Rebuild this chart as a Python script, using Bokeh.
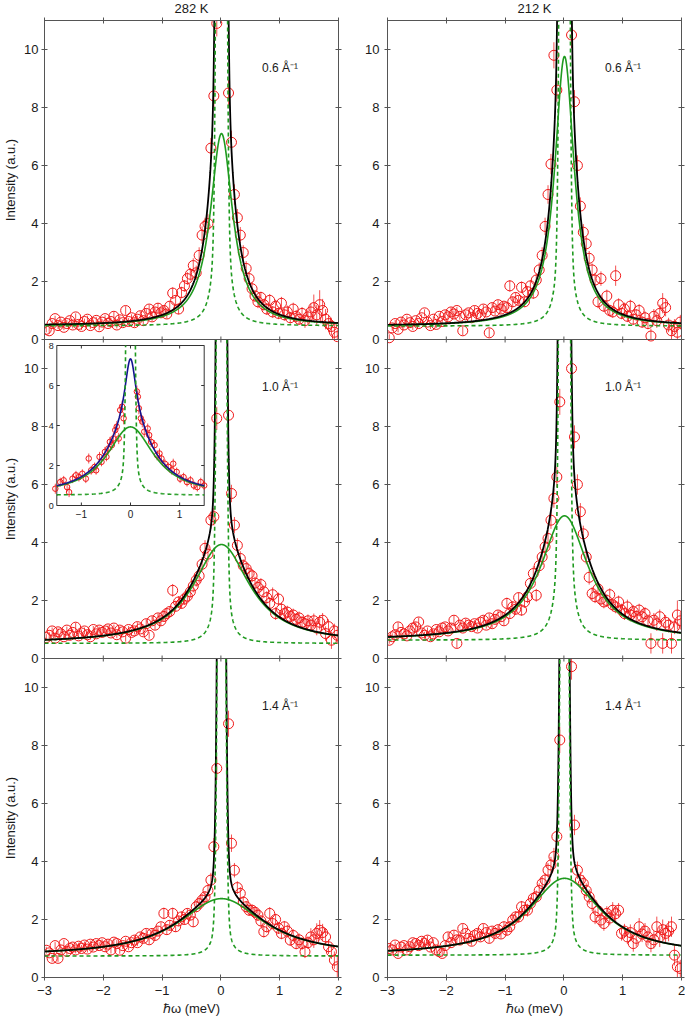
import numpy as np
from bokeh.plotting import figure
from bokeh.models import Range1d, LinearAxis, FixedTicker, Label, ColumnDataSource, Span
from bokeh.layouts import row, column
from bokeh.core.properties import value
from bokeh.embed import file_html
from bokeh.resources import INLINE

# ------------------------------------------------------------------ data
TEMPS = ["282 K", "212 K"]
Q_LABELS = ["0.6 Å⁻¹", "1.0 Å⁻¹", "1.4 Å⁻¹"]
XTICKS = [-3, -2, -1, 0, 1, 2]
XTICK_LABELS = ["−3", "−2", "−1", "0", "1", "2"]
YTICKS = [0, 2, 4, 6, 8, 10]
X_LABEL = "ℏω (meV)"
Y_LABEL = "Intensity (a.u.)"

ENERGY = [
    -2.97, -2.92, -2.87, -2.82, -2.77, -2.72, -2.67, -2.62, -2.57, -2.52,
    -2.47, -2.42, -2.37, -2.32, -2.27, -2.22, -2.17, -2.12, -2.07, -2.02,
    -1.97, -1.92, -1.87, -1.82, -1.77, -1.72, -1.67, -1.62, -1.57, -1.52,
    -1.47, -1.42, -1.37, -1.32, -1.27, -1.22, -1.17, -1.12, -1.07, -1.02,
    -0.97, -0.92, -0.87, -0.82, -0.77, -0.72, -0.67, -0.62, -0.57, -0.52,
    -0.47, -0.42, -0.37, -0.32, -0.27, -0.22, -0.17, -0.12, -0.07, -0.02,
    0.03, 0.08, 0.13, 0.18, 0.23, 0.28, 0.33, 0.38, 0.43, 0.48,
    0.53, 0.58, 0.63, 0.68, 0.73, 0.78, 0.83, 0.88, 0.93, 0.98,
    1.03, 1.08, 1.13, 1.18, 1.23, 1.28, 1.33, 1.38, 1.43, 1.48,
    1.53, 1.58, 1.63, 1.68, 1.73, 1.78, 1.83, 1.88, 1.93, 1.98]

# intensities (None = above the plotted range)
I_282K_Q06 = [
    0.35, 0.30, 0.55, 0.72, 0.48, 0.60, 0.42, 0.55, 0.65, 0.50,
    0.78, 0.52, 0.45, 0.62, 0.70, 0.48, 0.58, 0.66, 0.44, 0.60,
    0.72, 0.55, 0.62, 0.80, 0.50, 0.68, 0.58, 1.00, 0.62, 0.75,
    0.58, 0.70, 0.82, 0.65, 0.90, 1.05, 0.78, 0.95, 1.08, 0.92,
    1.00, 0.88, 1.15, 1.60, 1.35, 1.05, 1.62, 1.85, 2.10, 2.25,
    2.55, 2.30, 2.90, 3.60, 3.90, 4.00, 6.60, 8.40, 10.90, None,
    None, None, 8.50, 6.80, 5.00, 4.20, 3.60, 3.00, 2.45, 2.10,
    1.75, 1.50, 1.30, 1.45, 1.20, 1.05, 1.35, 0.95, 1.15, 0.90,
    1.25, 0.85, 0.95, 0.75, 1.05, 0.80, 0.70, 0.90, 0.65, 0.78,
    0.95, 1.10, 0.85, 1.20, 1.00, 0.70, 0.55, 0.45, 0.25, 0.10]
E_282K_Q06 = [
    .10, .10, .12, .10, .12, .10, .10, .12, .10, .12,
    .12, .10, .12, .10, .12, .12, .10, .12, .12, .10,
    .12, .12, .12, .15, .12, .12, .12, .15, .12, .12,
    .15, .12, .15, .12, .15, .15, .15, .15, .18, .15,
    .18, .15, .18, .20, .18, .18, .20, .20, .22, .22,
    .25, .25, .28, .30, .30, .32, .35, .40, .45, 0,
    0, 0, .45, .40, .35, .30, .28, .25, .25, .22,
    .22, .20, .22, .20, .20, .20, .22, .20, .22, .20,
    .22, .20, .22, .20, .22, .22, .20, .22, .25, .25,
    .30, .45, .35, .50, .40, .35, .30, .30, .30, .25]

I_212K_Q06 = [
    0.06, 0.40, 0.55, 0.35, 0.60, 0.50, 0.70, 0.58, 0.45, 0.65,
    0.55, 0.75, 0.92, 0.60, 0.48, 0.70, 0.52, 0.80, 0.62, 0.85,
    0.78, 0.95, 0.88, 1.00, 0.80, 0.30, 0.85, 0.92, 0.75, 1.00,
    0.90, 0.85, 1.05, 0.95, 0.23, 1.10, 0.98, 1.20, 1.05, 1.15,
    1.10, 1.85, 1.30, 1.45, 1.35, 1.80, 1.30, 1.65, 1.85, 1.60,
    2.05, 2.40, 2.90, 3.90, 5.00, 6.05, 9.80, 8.60, None, None,
    None, None, 10.50, 8.20, 6.00, 4.60, 3.70, 3.30, 2.80, 2.40,
    2.05, 1.30, 2.10, 1.15, 1.50, 1.00, 0.95, 2.20, 1.20, 0.90,
    1.05, 0.80, 1.15, 0.70, 0.85, 1.00, 0.60, 0.75, 0.55, 0.12,
    0.80, 0.65, 0.90, 1.25, 1.10, 0.50, 0.30, 0.45, 0.25, 0.60]
E_212K_Q06 = [
    .12, .10, .12, .10, .12, .10, .12, .10, .12, .10,
    .10, .12, .12, .10, .12, .10, .12, .10, .12, .12,
    .12, .15, .12, .12, .12, .15, .12, .12, .12, .15,
    .12, .12, .15, .12, .15, .15, .15, .15, .15, .15,
    .15, .20, .18, .18, .15, .20, .18, .18, .20, .20,
    .22, .25, .28, .30, .32, .35, .45, .40, 0, 0,
    0, 0, .45, .40, .35, .30, .28, .25, .25, .22,
    .25, .22, .25, .20, .22, .20, .20, .35, .22, .20,
    .22, .20, .22, .20, .20, .22, .20, .22, .20, .25,
    .25, .25, .30, .35, .30, .25, .30, .25, .30, .25]

I_282K_Q10 = [
    0.72, 0.80, 0.95, 0.70, 0.92, 0.85, 0.75, 0.98, 0.80, 0.90,
    1.08, 0.78, 0.88, 0.95, 0.82, 0.75, 1.00, 0.85, 0.98, 0.90,
    0.95, 1.02, 0.88, 1.05, 0.82, 0.98, 0.92, 0.70, 1.00, 0.90,
    0.95, 1.10, 1.02, 0.92, 1.20, 0.80, 1.30, 1.15, 1.40, 1.30,
    1.45, 1.55, 1.62, 2.35, 1.80, 1.95, 1.90, 2.05, 2.15, 2.30,
    2.50, 2.70, 2.85, 3.25, 3.80, 3.60, 4.77, 4.89, 8.28, None,
    None, None, 8.39, 5.69, 4.60, 3.90, 3.45, 3.20, 3.10, 2.93,
    2.85, 2.60, 2.45, 2.55, 2.30, 2.10, 1.90, 2.20, 1.55, 2.05,
    1.70, 1.55, 1.60, 1.45, 1.50, 1.35, 1.40, 1.25, 1.20, 1.30,
    1.15, 1.30, 1.05, 1.25, 1.32, 0.86, 1.10, 0.63, 0.95, 0.80]
E_282K_Q10 = [
    .12, .12, .12, .10, .12, .12, .10, .12, .12, .12,
    .15, .12, .12, .12, .12, .10, .12, .12, .12, .12,
    .12, .12, .12, .12, .12, .12, .12, .12, .12, .12,
    .12, .15, .12, .12, .15, .12, .15, .15, .15, .15,
    .18, .18, .18, .22, .18, .20, .18, .20, .20, .20,
    .22, .22, .25, .25, .28, .28, .30, .30, .40, 0,
    0, 0, .40, .30, .28, .25, .25, .22, .22, .22,
    .22, .22, .22, .22, .22, .22, .22, .25, .22, .22,
    .22, .25, .22, .22, .22, .22, .22, .22, .22, .22,
    .22, .25, .25, .25, .25, .25, .25, .30, .25, .30]

I_212K_Q10 = [
    0.63, 0.75, 0.82, 1.09, 0.90, 0.85, 0.78, 0.95, 1.05, 1.09,
    1.26, 0.88, 0.80, 0.95, 0.75, 0.85, 1.00, 0.92, 1.05, 1.09,
    0.95, 1.05, 1.32, 0.52, 1.15, 1.05, 1.22, 1.15, 1.10, 1.20,
    1.05, 1.25, 1.32, 1.15, 1.40, 1.20, 1.35, 1.50, 1.44, 1.30,
    1.90, 1.55, 1.78, 1.70, 2.10, 1.67, 1.95, 2.13, 2.59, 2.93,
    2.18, 3.20, 3.50, 3.85, 4.14, 4.77, 5.52, 6.26, 8.85, None,
    None, None, 10.00, 7.64, 6.00, 5.06, 4.30, 3.50, 2.80, 2.24,
    2.13, 2.40, 2.05, 1.95, 2.00, 2.20, 1.85, 1.78, 1.95, 1.67,
    1.55, 1.78, 1.50, 1.62, 1.45, 1.67, 1.44, 1.55, 1.30, 0.52,
    1.32, 1.20, 1.44, 0.52, 1.25, 1.15, 0.52, 1.09, 1.50, 1.30]
E_212K_Q10 = [
    .12, .12, .12, .15, .12, .12, .12, .12, .12, .15,
    .15, .12, .12, .12, .12, .12, .12, .12, .12, .12,
    .12, .12, .15, .15, .12, .12, .15, .12, .12, .12,
    .12, .15, .15, .12, .15, .15, .15, .15, .15, .15,
    .20, .18, .20, .20, .18, .20, .20, .22, .22, .25,
    .22, .25, .28, .28, .30, .30, .32, .35, .45, 0,
    0, 0, .45, .40, .35, .30, .28, .25, .25, .22,
    .22, .25, .22, .22, .22, .22, .22, .22, .22, .22,
    .22, .25, .22, .22, .22, .22, .25, .22, .22, .35,
    .25, .25, .25, .35, .25, .25, .35, .25, .50, .30]

I_282K_Q14 = [
    0.94, 0.85, 0.66, 1.10, 0.66, 0.95, 1.17, 0.90, 1.00, 1.05,
    0.95, 1.08, 1.00, 1.12, 0.98, 1.15, 1.05, 1.17, 1.10, 1.20,
    1.06, 1.15, 0.95, 1.22, 1.17, 0.94, 1.10, 1.25, 1.06, 1.20,
    1.29, 1.20, 1.40, 1.35, 1.52, 1.30, 1.52, 1.45, 1.60, 1.75,
    2.21, 1.65, 1.80, 2.21, 1.75, 1.95, 2.09, 2.00, 2.21, 2.15,
    1.92, 2.44, 2.55, 2.67, 2.78, 3.00, 3.36, 4.51, 7.21, None,
    None, None, 8.75, 4.63, 3.70, 3.10, 2.90, 2.60, 2.44, 2.32,
    2.32, 2.25, 2.15, 1.95, 1.58, 1.75, 2.21, 1.86, 2.00, 1.70,
    1.52, 1.75, 1.60, 1.29, 1.45, 1.17, 1.30, 1.17, 0.89, 1.20,
    1.40, 1.30, 1.52, 1.63, 1.55, 1.40, 1.06, 0.89, 0.60, 0.37]
E_282K_Q14 = [
    .12, .12, .12, .12, .12, .12, .12, .12, .12, .12,
    .12, .12, .12, .12, .12, .12, .12, .12, .12, .12,
    .12, .12, .12, .12, .12, .12, .12, .12, .12, .12,
    .15, .12, .15, .15, .15, .15, .15, .15, .15, .15,
    .20, .18, .18, .20, .18, .18, .18, .18, .18, .18,
    .18, .20, .20, .20, .20, .22, .25, .30, .40, 0,
    0, 0, .45, .30, .25, .22, .22, .20, .20, .20,
    .20, .20, .20, .20, .20, .20, .22, .20, .20, .20,
    .20, .20, .22, .20, .22, .20, .22, .22, .22, .22,
    .30, .28, .35, .35, .30, .28, .25, .25, .30, .40]

I_212K_Q14 = [
    1.00, 0.95, 1.12, 0.83, 1.05, 1.10, 0.95, 1.06, 1.20, 1.17,
    1.10, 1.25, 1.17, 1.29, 1.05, 1.20, 0.95, 0.89, 0.83, 1.10,
    1.40, 1.20, 1.46, 1.30, 1.29, 1.69, 1.52, 1.35, 1.25, 1.45,
    1.52, 1.40, 1.69, 1.55, 1.35, 1.60, 1.52, 1.65, 1.50, 1.75,
    1.63, 1.75, 1.98, 2.09, 2.09, 2.44, 2.32, 2.32, 2.55, 2.73,
    2.78, 3.00, 3.24, 3.36, 3.70, 3.88, 4.17, 4.86, 8.19, None,
    None, None, 10.72, 5.26, 3.70, 3.36, 3.24, 3.00, 2.78, 2.55,
    2.09, 2.30, 1.98, 1.86, 2.21, 2.05, 2.32, 2.20, 2.32, 1.52,
    1.60, 1.40, 1.55, 1.17, 1.35, 1.75, 1.50, 1.60, 1.40, 1.17,
    1.30, 1.75, 1.40, 1.65, 1.52, 1.60, 1.75, 0.77, 0.37, 0.31]
E_212K_Q14 = [
    .12, .12, .12, .12, .12, .12, .12, .12, .12, .12,
    .12, .12, .12, .15, .12, .12, .12, .12, .12, .12,
    .15, .12, .15, .15, .15, .15, .15, .15, .15, .15,
    .15, .15, .15, .15, .15, .15, .18, .15, .15, .18,
    .18, .18, .20, .20, .20, .20, .20, .22, .22, .22,
    .22, .25, .25, .25, .25, .28, .30, .32, .45, 0,
    0, 0, .45, .35, .30, .28, .28, .25, .25, .25,
    .25, .25, .25, .25, .25, .25, .28, .28, .25, .25,
    .25, .25, .28, .28, .28, .30, .28, .28, .30, .30,
    .30, .35, .35, .35, .30, .35, .35, .35, .40, .30]

# inset: 282 K, 1.0 1/A, zoom on the quasi-elastic region
INSET_E = [
    -1.53, -1.43, -1.36, -1.29, -1.25, -1.18, -1.11, -1.05, -0.98, -0.91,
    -0.85, -0.80, -0.73, -0.70, -0.63, -0.59, -0.52, -0.49, -0.45, -0.42,
    -0.38, -0.35, -0.31, -0.28, -0.24, -0.21, -0.17, -0.14,
    0.13, 0.15, 0.17, 0.21, 0.24, 0.28, 0.35, 0.38, 0.42, 0.49,
    0.54, 0.59, 0.63, 0.70, 0.77, 0.84, 0.87, 0.94, 1.01, 1.08,
    1.15, 1.22, 1.29, 1.36, 1.43, 1.50]
INSET_I = [
    0.84, 1.17, 1.26, 0.92, 0.67, 1.34, 1.51, 1.42, 1.59, 1.34,
    2.35, 1.76, 1.93, 1.76, 2.43, 2.18, 2.68, 2.43, 2.85, 3.18,
    3.02, 3.35, 3.77, 3.94, 3.35, 4.77, 4.94, 4.36,
    5.70, 5.44, 4.86, 4.36, 4.19, 3.69, 3.85, 3.52, 3.18, 3.02,
    2.51, 2.60, 2.35, 2.09, 1.93, 1.76, 2.09, 1.68, 1.34, 1.42,
    1.17, 1.26, 1.00, 0.92, 1.17, 1.00]
INSET_ERR = [
    .25, .22, .22, .22, .25, .22, .22, .22, .22, .22,
    .25, .22, .22, .22, .25, .22, .25, .22, .25, .25,
    .25, .25, .28, .28, .28, .30, .30, .30,
    .30, .30, .30, .28, .28, .28, .25, .25, .25, .25,
    .25, .25, .22, .22, .22, .22, .25, .22, .22, .22,
    .22, .22, .22, .22, .22, .22]
INSET_XLIM = [-1.5, 1.5]
INSET_YLIM = [0, 8]
INSET_XTICKS = [-1, 0, 1]
INSET_XTICK_LABELS = ["−1", "0", "1"]
INSET_YTICKS = [0, 2, 4, 6, 8]

# fitted model parameters, panel order: 282K/0.6, 212K/0.6, 282K/1.0, 212K/1.0, 282K/1.4, 212K/1.4
FIT_CENTER = 0.01
FIT_BG = [0.47, 0.46, 0.52, 0.63, 0.74, 0.77]
FIT_BROAD_AMP = [6.63, 9.30, 3.41, 4.29, 1.98, 2.65]
FIT_BROAD_HWHM = [0.23, 0.20, 0.58, 0.49, 0.88, 0.74]
FIT_ELASTIC_SCALE = [1.7, 1.4, 1.0, 1.7, 0.55, 0.65]
RES_GAUSS_AMP = 62.0
RES_GAUSS_SIGMA = 0.0436
RES_LOR_AREA = 0.03
RES_LOR_WIDTH = 0.02
INSET_BLUE_AMP = 3.4
INSET_BLUE_HWHM = 0.14

PANEL_I = [I_282K_Q06, I_212K_Q06, I_282K_Q10, I_212K_Q10, I_282K_Q14, I_212K_Q14]
PANEL_E = [E_282K_Q06, E_212K_Q06, E_282K_Q10, E_212K_Q10, E_282K_Q14, E_212K_Q14]

# ------------------------------------------------------------------ style / layout
FONT = "Liberation Sans"
AX = "#555555"
TXT = "#1a1a1a"
RED = "#f01818"
GREEN = "#1f9a1f"
BLUE = "#12128f"

X_RANGE = [-3.0, 2.0]
PANEL_SPAN = 11            # each panel shows 0..11
N_ROWS = 3
FRAME_W = 294
FRAME_H = 957
YLAB_W = 20                # strip holding the rotated y labels
BORDER_L = [24, 45]
BORDER_R = [4, 4]
HEADER_H = 15
BORDER_T = 5
BORDER_B = 41
FRAME_LEFT_PX = 44.0
FRAME_TOP_PX = 20.0
INSET_PX = dict(left=56.3, right=203.7, top=345.0, bottom=505.0)   # page pixels
TICK_PX = 3
TITLE_BASELINE_PX = 8.3    # from page top
YLAB_CENTER_PX = 9.5       # from page left

PX_X = FRAME_W / (X_RANGE[1] - X_RANGE[0])
PX_Y = FRAME_H / float(PANEL_SPAN * N_ROWS)


def lor(x, amp, hw):
    return amp / (1.0 + (x / hw) ** 2)


def elastic(x, scale):
    return scale * (RES_GAUSS_AMP * np.exp(-0.5 * (x / RES_GAUSS_SIGMA) ** 2)
                    + RES_LOR_AREA / (x ** 2 + RES_LOR_WIDTH ** 2))


def clip_top(y, top):
    """cut a curve where it leaves the top of its panel."""
    y = np.array(y, dtype=float)
    over = y > top
    prev_ok = np.r_[False, ~over[:-1]]
    next_ok = np.r_[~over[1:], False]
    edge = over & (prev_ok | next_ok)
    y[over] = np.nan
    y[edge] = top
    return y


def base_of(r):
    return (N_ROWS - 1 - r) * PANEL_SPAN


def bare_figure(**kw):
    f = figure(x_axis_location=None, y_axis_location=None,
               output_backend="svg", toolbar_location=None,
               background_fill_color="white", border_fill_color="white", **kw)
    f.outline_line_color = None
    f.grid.visible = False
    return f


def make_axis(ticks, tin, tout, overrides, standoff=3, size="13px"):
    ax = LinearAxis(ticker=FixedTicker(ticks=ticks, minor_ticks=[]))
    ax.major_tick_in = int(tin)
    ax.major_tick_out = int(tout)
    ax.major_tick_line_color = AX
    ax.major_tick_line_width = 1
    ax.minor_tick_line_color = None
    ax.axis_line_color = AX
    ax.axis_line_width = 1
    ax.major_label_text_font = FONT
    ax.major_label_text_font_size = size
    ax.major_label_text_color = TXT
    ax.major_label_standoff = int(standoff)
    ax.major_label_overrides = overrides
    return ax


def add_inset(p, k):
    px_x = (INSET_PX["right"] - INSET_PX["left"]) / (INSET_XLIM[1] - INSET_XLIM[0])
    x0 = INSET_XLIM[0] - (INSET_PX["left"] - FRAME_LEFT_PX) / px_x
    px_y = (INSET_PX["bottom"] - INSET_PX["top"]) / (INSET_YLIM[1] - INSET_YLIM[0])
    frame_bottom = FRAME_TOP_PX + FRAME_H
    y0 = INSET_YLIM[0] - (frame_bottom - INSET_PX["bottom"]) / px_y
    p.extra_x_ranges["ix"] = Range1d(x0, x0 + FRAME_W / px_x)
    p.extra_y_ranges["iy"] = Range1d(y0, y0 + FRAME_H / px_y)
    kw = dict(x_range_name="ix", y_range_name="iy")

    p.quad(left=INSET_XLIM[0], right=INSET_XLIM[1], bottom=INSET_YLIM[0], top=INSET_YLIM[1],
           fill_color="white", line_color="#333333", line_width=1, **kw)
    tl_y = TICK_PX / px_y
    tl_x = TICK_PX / px_x
    n = len(INSET_XTICKS)
    m = len(INSET_YTICKS)
    p.segment(x0=INSET_XTICKS, x1=INSET_XTICKS, y0=[INSET_YLIM[0]] * n,
              y1=[INSET_YLIM[0] + tl_y] * n, line_color="#333333", **kw)
    p.segment(x0=INSET_XTICKS, x1=INSET_XTICKS, y0=[INSET_YLIM[1]] * n,
              y1=[INSET_YLIM[1] - tl_y] * n, line_color="#333333", **kw)
    p.segment(x0=[INSET_XLIM[0]] * m, x1=[INSET_XLIM[0] + tl_x] * m, y0=INSET_YTICKS,
              y1=INSET_YTICKS, line_color="#333333", **kw)
    p.segment(x0=[INSET_XLIM[1]] * m, x1=[INSET_XLIM[1] - tl_x] * m, y0=INSET_YTICKS,
              y1=INSET_YTICKS, line_color="#333333", **kw)
    p.text(x=INSET_XTICKS, y=[INSET_YLIM[0] - 4.0 / px_y] * n, text=INSET_XTICK_LABELS,
           text_align="center", text_baseline="top", text_font=value(FONT),
           text_font_size=value("10px"), text_color=TXT, **kw)
    p.text(x=[INSET_XLIM[0] - 3.0 / px_x] * m, y=INSET_YTICKS, text=[str(t) for t in INSET_YTICKS],
           text_align="right", text_baseline="middle", text_font=value(FONT),
           text_font_size=value("9px"), text_color=TXT, **kw)

    y = np.array(INSET_I, dtype=float)
    e = np.array(INSET_ERR, dtype=float)
    src = ColumnDataSource(dict(x=np.array(INSET_E), y=y, lo=y - e, hi=y + e))
    p.segment(x0="x", y0="lo", x1="x", y1="hi", source=src, line_color=RED,
              line_width=1, line_alpha=0.75, **kw)
    p.scatter("x", "y", source=src, marker="circle", size=5.5, fill_color=None,
              line_color=RED, line_width=1, **kw)

    xi = np.linspace(INSET_XLIM[0], INSET_XLIM[1], 6001)
    bg = FIT_BG[k]
    broad = lor(xi, FIT_BROAD_AMP[k], FIT_BROAD_HWHM[k])
    dash = clip_top(bg + elastic(xi, FIT_ELASTIC_SCALE[k]), INSET_YLIM[1])
    blue = bg + broad + lor(xi, INSET_BLUE_AMP, INSET_BLUE_HWHM)
    p.line(xi, bg + broad, line_color=GREEN, line_width=1.6, **kw)
    p.line(xi, blue, line_color=BLUE, line_width=1.6, **kw)
    p.line(xi, dash, line_color=GREEN, line_width=1.6, line_dash="4 3", **kw)


def make_header(c):
    h = bare_figure(frame_width=FRAME_W, frame_height=HEADER_H,
                    x_range=Range1d(*X_RANGE), y_range=Range1d(0, HEADER_H),
                    min_border_left=BORDER_L[c], min_border_right=BORDER_R[c],
                    min_border_top=0, min_border_bottom=0)
    h.text(x=[-0.5], y=[HEADER_H - TITLE_BASELINE_PX], text=[TEMPS[c]],
           text_align="center", text_baseline="alphabetic", text_font=value(FONT),
           text_font_size=value("13px"), text_color=TXT)
    return h


def make_ylabel_strip():
    total = PANEL_SPAN * N_ROWS
    s = bare_figure(frame_width=YLAB_W, frame_height=FRAME_H,
                    x_range=Range1d(0, YLAB_W), y_range=Range1d(0, total),
                    min_border_left=0, min_border_right=0,
                    min_border_top=HEADER_H + BORDER_T, min_border_bottom=BORDER_B)
    s.text(x=[YLAB_CENTER_PX] * N_ROWS, y=[base_of(r) + PANEL_SPAN / 2.0 for r in range(N_ROWS)],
           text=[Y_LABEL] * N_ROWS, angle=np.pi / 2, text_align="center",
           text_baseline="middle", text_font=value(FONT), text_font_size=value("13px"),
           text_color=TXT)
    return s


def make_column(c):
    total = PANEL_SPAN * N_ROWS
    p = bare_figure(frame_width=FRAME_W, frame_height=FRAME_H,
                    x_range=Range1d(*X_RANGE), y_range=Range1d(0, total),
                    min_border_left=BORDER_L[c], min_border_right=BORDER_R[c],
                    min_border_top=BORDER_T, min_border_bottom=BORDER_B)
    p.extra_y_ranges = {f"p{r}": Range1d(-base_of(r), total - base_of(r)) for r in range(N_ROWS)}

    # ---- axes
    yt = sorted(base_of(r) + t for r in range(N_ROWS) for t in YTICKS)
    y_over = {base_of(r) + t: str(t) for r in range(N_ROWS) for t in YTICKS}
    p.add_layout(make_axis(yt, TICK_PX, TICK_PX, y_over, standoff=3 if c == 0 else 5), "left")
    p.add_layout(make_axis(yt, TICK_PX, TICK_PX, {t: "" for t in yt}, standoff=0), "right")
    p.add_layout(make_axis(XTICKS, TICK_PX, TICK_PX, {t: "" for t in XTICKS},
                           standoff=0, size="1px"), "above")
    below = make_axis(XTICKS, TICK_PX, TICK_PX,
                      {t: l for t, l in zip(XTICKS, XTICK_LABELS)}, standoff=5)
    below.axis_label = X_LABEL
    below.axis_label_text_font = FONT
    below.axis_label_text_font_size = "13px"
    below.axis_label_text_font_style = "normal"
    below.axis_label_text_color = TXT
    below.axis_label_standoff = 3
    p.add_layout(below, "below")

    # panel boundaries with crossing ticks
    tl = TICK_PX / PX_Y
    for r in range(N_ROWS - 1):
        b = base_of(r)
        p.add_layout(Span(location=b, dimension="width", line_color=AX, line_width=1))
        p.segment(x0=XTICKS, x1=XTICKS, y0=[b - tl] * len(XTICKS), y1=[b + tl] * len(XTICKS),
                  line_color=AX, line_width=1)

    xs = np.linspace(X_RANGE[0], X_RANGE[1], 5001)
    for r in range(N_ROWS):
        k = 2 * r + c
        yname = f"p{r}"
        y = np.array(PANEL_I[k], dtype=float)
        e = np.array(PANEL_E[k], dtype=float)
        src = ColumnDataSource(dict(x=np.array(ENERGY), y=y,
                                    lo=np.clip(y - e, 0, PANEL_SPAN),
                                    hi=np.clip(y + e, 0, PANEL_SPAN)))
        p.segment(x0="x", y0="lo", x1="x", y1="hi", source=src, y_range_name=yname,
                  line_color=RED, line_width=1, line_alpha=0.75)
        p.scatter("x", "y", source=src, y_range_name=yname, marker="circle", size=10,
                  fill_color=None, line_color=RED, line_width=1)

        dx = xs - FIT_CENTER
        bg = FIT_BG[k]
        broad = lor(dx, FIT_BROAD_AMP[k], FIT_BROAD_HWHM[k])
        el = elastic(dx, FIT_ELASTIC_SCALE[k])
        p.line(xs, clip_top(bg + broad, PANEL_SPAN), y_range_name=yname,
               line_color=GREEN, line_width=1.6)
        p.line(xs, clip_top(bg + broad + el, PANEL_SPAN), y_range_name=yname,
               line_color="black", line_width=1.8)
        p.line(xs, clip_top(bg + el, PANEL_SPAN), y_range_name=yname,
               line_color=GREEN, line_width=1.6, line_dash="4 3")

        p.add_layout(Label(x=0.7, y=9.35, y_range_name=yname, text=Q_LABELS[r],
                           text_font=FONT, text_font_size="12px",
                           text_baseline="middle", text_color=TXT))
        if k == 2:
            add_inset(p, k)
    return p


layout = row(make_ylabel_strip(),
             column(make_header(0), make_column(0)),
             column(make_header(1), make_column(1)))
open("out.html", "w").write(file_html(layout, INLINE))
